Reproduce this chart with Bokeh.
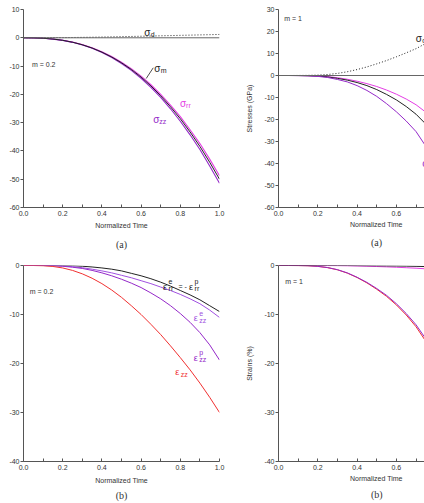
from bokeh.plotting import figure
from bokeh.layouts import column, row
from bokeh.models import FixedTicker, Label, Span, PrintfTickFormatter, Title
from bokeh.embed import file_html
from bokeh.resources import INLINE

# ---------------- data ----------------
t_full = [0.0, 0.05, 0.1, 0.15, 0.2, 0.25, 0.3, 0.35, 0.4, 0.45, 0.5,
          0.55, 0.6, 0.65, 0.7, 0.75, 0.8, 0.85, 0.9, 0.95, 1.0]
t_part = [0.0, 0.05, 0.1, 0.15, 0.2, 0.25, 0.3, 0.35, 0.4, 0.45, 0.5,
          0.55, 0.6, 0.65, 0.7, 0.75]

# (a) m = 0.2 stresses (GPa)
a02_sd = [0, 0, 0.01, 0.03, 0.06, 0.1, 0.15, 0.2, 0.26, 0.33, 0.4,
          0.47, 0.55, 0.62, 0.7, 0.78, 0.86, 0.94, 1.02, 1.1, 1.18]
a02_srr = [0, -0.03, -0.15, -0.43, -0.87, -1.52, -2.4, -3.53, -4.93, -6.62, -8.62,
           -10.9, -13.55, -16.6, -20.0, -23.8, -27.9, -32.5, -37.4, -42.9, -48.8]
a02_sm = [0, -0.03, -0.16, -0.44, -0.89, -1.56, -2.46, -3.62, -5.06, -6.79, -8.84,
          -11.2, -13.9, -17.0, -20.5, -24.4, -28.6, -33.3, -38.4, -44.0, -50.0]
a02_szz = [0, -0.03, -0.17, -0.46, -0.92, -1.61, -2.53, -3.73, -5.21, -6.99, -9.1,
           -11.5, -14.3, -17.5, -21.1, -25.1, -29.5, -34.3, -39.5, -45.3, -51.4]

# (a) m = 1 stresses (GPa)
a1_sd = [0, 0, 0.02, 0.06, 0.18, 0.45, 0.95, 1.7, 2.7, 3.9, 5.3,
         6.8, 8.5, 10.3, 12.2, 14.6]
a1_srr = [0, 0, -0.02, -0.08, -0.22, -0.5, -1.0, -1.7, -2.6, -3.7, -5.0,
          -6.6, -8.5, -10.7, -13.3, -16.7]
a1_sm = [0, 0, -0.03, -0.1, -0.28, -0.65, -1.3, -2.1, -3.2, -4.6, -6.4,
         -8.6, -11.1, -14.1, -17.6, -22.1]
a1_szz = [0, 0, -0.04, -0.14, -0.4, -0.9, -1.8, -2.9, -4.6, -6.8, -9.5,
          -12.8, -16.5, -20.7, -25.5, -32.2]

# (b) m = 0.2 strains (%)
b02_err = [0, 0, 0, 0, -0.02, -0.05, -0.15, -0.3, -0.5, -0.75, -1.1,
           -1.6, -2.1, -2.7, -3.4, -4.2, -5.1, -6.0, -7.0, -8.2, -9.4]
b02_eezz = [0, 0, 0, -0.02, -0.1, -0.25, -0.45, -0.75, -1.1, -1.5, -2.0,
            -2.5, -3.1, -3.7, -4.4, -5.1, -5.9, -6.8, -7.8, -9.1, -10.6]
b02_epzz = [0, 0, 0, -0.05, -0.15, -0.35, -0.6, -1.0, -1.5, -2.1, -2.8,
            -3.6, -4.5, -5.6, -6.8, -8.2, -9.8, -11.6, -13.7, -16.2, -19.3]
b02_ezz = [0, 0, -0.05, -0.2, -0.5, -1.0, -1.7, -2.6, -3.7, -5.0, -6.5,
           -8.2, -10.0, -12.0, -14.1, -16.4, -18.8, -21.3, -24.0, -26.9, -30.0]

# (b) m = 1 strains (%)
b1_err = [0, 0, 0, 0, 0, 0, 0, 0, -0.02, -0.04, -0.06,
          -0.08, -0.1, -0.13, -0.17, -0.22]
b1_eezz = [0, 0, 0, 0, 0, -0.01, -0.03, -0.06, -0.1, -0.15, -0.21,
           -0.28, -0.36, -0.45, -0.55, -0.68]
b1_epzz = [0, 0, -0.01, -0.05, -0.17, -0.42, -0.85, -1.5, -2.4, -3.45, -4.7,
           -6.1, -7.8, -9.8, -12.1, -15.0]
b1_ezz = [0, 0, -0.01, -0.05, -0.18, -0.44, -0.88, -1.55, -2.45, -3.55, -4.85,
          -6.3, -8.05, -10.1, -12.5, -15.5]

x_ticks = [0.0, 0.2, 0.4, 0.6, 0.8, 1.0]
x_minor = [0.1, 0.3, 0.5, 0.7, 0.9]
y_ticks_a = [10, 0, -10, -20, -30, -40, -50, -60]
y_ticks_a1 = [30, 20, 10, 0, -10, -20, -30, -40, -50, -60]
y_ticks_b = [0, -10, -20, -30, -40]

# ---------------- style ----------------
SANS = "Liberation Sans"
SERIF = "Liberation Serif"
TXT = "#333333"
AX = "#555555"
BLACK = "#222222"
MAGENTA = "#e43ce4"
PURPLE = "#9428c8"
VIOLET = "#a050e0"
RED = "#f03030"


def make_fig(width, height, xr, yr, bl, br, bt, bb, yticks, ylabel=None):
    p = figure(width=width, height=height, x_range=xr, y_range=yr,
               min_border_left=bl, min_border_right=br,
               min_border_top=bt, min_border_bottom=bb,
               output_backend="svg", toolbar_location=None)
    p.outline_line_color = None
    p.grid.visible = False
    xa = p.xaxis[0]
    xa.ticker = FixedTicker(ticks=x_ticks, minor_ticks=x_minor)
    xa.formatter = PrintfTickFormatter(format="%.1f")
    xa.major_tick_in = 3
    xa.major_tick_out = 0
    xa.minor_tick_in = 3
    xa.minor_tick_out = 0
    xa.major_label_standoff = 3
    ya = p.yaxis[0]
    ya.ticker = FixedTicker(ticks=yticks, minor_ticks=[])
    ya.formatter = PrintfTickFormatter(format="%d")
    ya.major_tick_in = 0
    ya.major_tick_out = 3
    ya.major_label_standoff = 1
    if ylabel:
        ya.axis_label = ylabel
        ya.axis_label_text_font = SANS
        ya.axis_label_text_font_size = "7px"
        ya.axis_label_text_font_style = "normal"
        ya.axis_label_text_color = TXT
        ya.axis_label_standoff = 8
    for ax in (xa, ya):
        ax.axis_line_color = AX
        ax.major_tick_line_color = AX
        ax.minor_tick_line_color = AX
        ax.major_label_text_font = SANS
        ax.major_label_text_font_size = "7px"
        ax.major_label_text_color = TXT
    return p


def caption(p, s, size, font, standoff, offset=None):
    if offset is None:
        t = Title(text=s, align="center", standoff=standoff)
    else:
        t = Title(text=s, align="left", offset=offset, standoff=standoff)
    t.text_font = font
    t.text_font_size = f"{size}px"
    t.text_font_style = "normal"
    t.text_color = TXT
    p.add_layout(t, "below")


def text(p, x, y, s, color=TXT, size=7, font=SANS, xo=0, yo=0):
    p.add_layout(Label(x=x, y=y, text=s, x_offset=xo, y_offset=yo,
                       text_color=color, text_font=font,
                       text_font_size=f"{size}px", text_align="left",
                       text_baseline="alphabetic"))


def sym(p, x, y, main, color, sub=None, sup=None, w=6, size=10, ssize=7, xo=0):
    text(p, x, y, main, color=color, size=size, xo=xo)
    if sub:
        text(p, x, y, sub, color=color, size=ssize, xo=xo + w, yo=-2)
    if sup:
        text(p, x, y, sup, color=color, size=ssize, xo=xo + w, yo=5)


zero = dict(location=0, dimension="width", line_color="#666666", line_width=1)

# ---------- (a) m = 0.2 ----------
p1 = make_fig(232, 258, (0, 1), (-60, 10), 23, 13, 9, 51, y_ticks_a)
p1.add_layout(Span(**zero))
p1.line(t_full, a02_sd, line_color=BLACK, line_width=1, line_dash="1 2")
p1.line(t_full, a02_srr, line_color=MAGENTA, line_width=1.1)
p1.line(t_full, a02_szz, line_color=PURPLE, line_width=1.1)
p1.line(t_full, a02_sm, line_color=BLACK, line_width=1)
p1.segment(x0=[0.626], y0=[-14.4], x1=[0.662], y1=[-10.6], line_color=BLACK, line_width=0.8)
sym(p1, 0.616, 1.9, "σ", BLACK, sub="d", w=6.5)
sym(p1, 0.667, -10.9, "σ", BLACK, sub="m", w=6.5)
sym(p1, 0.799, -23.2, "σ", MAGENTA, sub="rr", w=6)
sym(p1, 0.662, -28.9, "σ", PURPLE, sub="zz", w=6)
text(p1, 0.043, -9.44, "m = 0.2", size=7)
caption(p1, "Normalized Time", 7, SANS, 2)
caption(p1, "(a)", 10, SERIF, 14)

# ---------- (a) m = 1 ----------
p2 = make_fig(192, 258, (0, 0.743), (-60, 30), 46, 0, 9, 51, y_ticks_a1,
              ylabel="Stresses (GPa)")
p2.add_layout(Span(**zero))
p2.line(t_part, a1_sd, line_color=BLACK, line_width=1, line_dash="1 2")
p2.line(t_part, a1_srr, line_color=MAGENTA, line_width=1)
p2.line(t_part, a1_sm, line_color=BLACK, line_width=1)
p2.line(t_part, a1_szz, line_color=PURPLE, line_width=1)
sym(p2, 0.699, 16.75, "σ", BLACK, sub="d", w=6.5)
sym(p2, 0.731, -39.9, "σ", PURPLE, sub="zz", w=6)
text(p2, 0.029, 25.75, "m = 1", size=7)
caption(p2, "Normalized Time", 7, SANS, 0, offset=71.5)
caption(p2, "(a)", 10, SERIF, 14, offset=92.5)

# ---------- (b) m = 0.2 ----------
p3 = make_fig(232, 245, (0, 1), (-40, 0), 23, 13, 7, 42, y_ticks_b)
p3.line(t_full, b02_err, line_color=BLACK, line_width=1)
p3.line(t_full, b02_eezz, line_color=VIOLET, line_width=1)
p3.line(t_full, b02_epzz, line_color=PURPLE, line_width=1)
p3.line(t_full, b02_ezz, line_color=RED, line_width=1)
sym(p3, 0.712, -4.3, "ε", BLACK, sub="rr", sup="e", w=5.5, size=9)
text(p3, 0.712, -4.3, "= -", color=BLACK, size=7, xo=15.5)
sym(p3, 0.712, -4.3, "ε", BLACK, sub="rr", sup="p", w=5.5, size=9, xo=26)
sym(p3, 0.868, -10.8, "ε", VIOLET, sub="zz", sup="e", w=5.5, size=9)
sym(p3, 0.868, -18.8, "ε", PURPLE, sub="zz", sup="p", w=5.5, size=9)
sym(p3, 0.774, -21.8, "ε", RED, sub="zz", w=5.5, size=9)
text(p3, 0.032, -5.24, "m = 0.2", size=7)
caption(p3, "Normalized Time", 7, SANS, 4)
caption(p3, "(b)", 10, SERIF, 5)

# ---------- (b) m = 1 ----------
p4 = make_fig(192, 245, (0, 0.743), (-40, 0), 46, 0, 7, 42, y_ticks_b,
              ylabel="Strains (%)")
p4.line(t_part, b1_ezz, line_color=RED, line_width=1)
p4.line(t_part, b1_epzz, line_color=PURPLE, line_width=1)
p4.line(t_part, b1_eezz, line_color=MAGENTA, line_width=1)
p4.line(t_part, b1_err, line_color=BLACK, line_width=1)
text(p4, 0.034, -3.2, "m = 1", size=7)
caption(p4, "Normalized Time", 7, SANS, 1, offset=71.5)
caption(p4, "(b)", 10, SERIF, 8, offset=92.5)

layout = column(row(p1, p2), row(p3, p4))
open("out.html", "w").write(file_html(layout, INLINE))
